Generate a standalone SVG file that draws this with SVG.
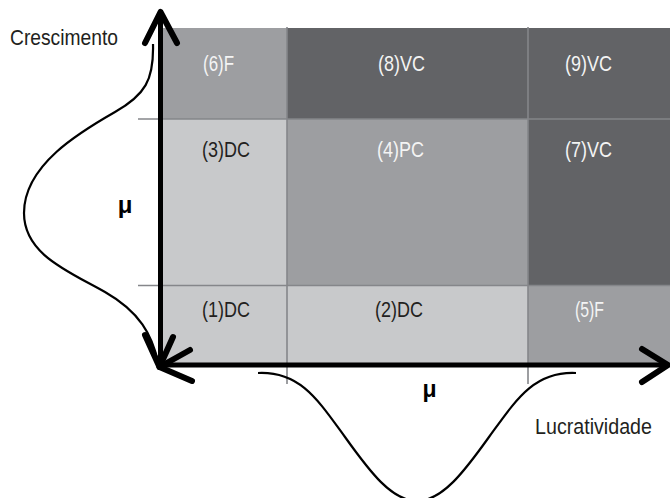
<svg xmlns="http://www.w3.org/2000/svg" width="670" height="498" viewBox="0 0 670 498">
<style>
.light{fill:#c8c9cb}
.mid{fill:#9d9ea1}
.dark{fill:#626366}
.grid{stroke:#85868a;stroke-width:1.6;fill:none}
.lbl{font-family:"Liberation Sans",Arial,sans-serif;font-size:22px;text-anchor:middle}
.w{fill:#f4f4f4}
.k{fill:#231f20}
.axis{stroke:#000;stroke-width:5;fill:none}
.head{stroke:#000;stroke-width:6;fill:none;stroke-linecap:round;stroke-linejoin:round}
.curve{stroke:#000;stroke-width:2.2;fill:none}
.mu{font-family:"Liberation Sans",Arial,sans-serif;font-weight:bold;fill:#000;text-anchor:middle}
.title{font-family:"Liberation Sans",Arial,sans-serif;font-size:22.5px;fill:#231f20}
</style>
<g id="cells">
<g id="cell6"><rect class="mid" x="160" y="28" width="127" height="91"/><text class="lbl w" x="218.5" y="70.5" textLength="31" lengthAdjust="spacingAndGlyphs">(6)F</text></g>
<g id="cell8"><rect class="dark" x="287" y="28" width="241" height="91"/><text class="lbl w" x="401.5" y="70.5" textLength="47" lengthAdjust="spacingAndGlyphs">(8)VC</text></g>
<g id="cell9"><rect class="dark" x="528" y="28" width="142" height="91"/><text class="lbl w" x="588.5" y="70.5" textLength="47" lengthAdjust="spacingAndGlyphs">(9)VC</text></g>
<g id="cell3"><rect class="light" x="160" y="119" width="127" height="166"/><text class="lbl k" x="226" y="157" textLength="48" lengthAdjust="spacingAndGlyphs">(3)DC</text></g>
<g id="cell4"><rect class="mid" x="287" y="119" width="241" height="166"/><text class="lbl w" x="400.5" y="157" textLength="47" lengthAdjust="spacingAndGlyphs">(4)PC</text></g>
<g id="cell7"><rect class="dark" x="528" y="119" width="142" height="166"/><text class="lbl w" x="588.5" y="157" textLength="47" lengthAdjust="spacingAndGlyphs">(7)VC</text></g>
<g id="cell1"><rect class="light" x="160" y="285" width="127" height="80"/><text class="lbl k" x="226" y="317" textLength="48" lengthAdjust="spacingAndGlyphs">(1)DC</text></g>
<g id="cell2"><rect class="light" x="287" y="285" width="241" height="80"/><text class="lbl k" x="399" y="317" textLength="48" lengthAdjust="spacingAndGlyphs">(2)DC</text></g>
<g id="cell5"><rect class="mid" x="528" y="285" width="142" height="80"/><text class="lbl w" x="589.5" y="317" textLength="29" lengthAdjust="spacingAndGlyphs">(5)F</text></g>
</g>
<g id="gridlines">
<line class="grid" x1="138" y1="119" x2="670" y2="119"/>
<line class="grid" x1="138" y1="285.5" x2="670" y2="285.5"/>
<line class="grid" x1="287" y1="27" x2="287" y2="384"/>
<line class="grid" x1="528" y1="27" x2="528" y2="384"/>
</g>
<g id="connectors">
<line class="axis" x1="160.5" y1="13" x2="160.5" y2="367"/>
<line class="axis" x1="159" y1="365" x2="667" y2="365"/>
<polyline class="head" points="145,43 160.5,12 177,43"/>
<polyline class="head" points="145,335 159.5,367 173,337"/>
<polyline class="head" points="190,350 159.5,367 192,381"/>
<polyline class="head" points="642,349 668,365 642,382"/>
<path class="curve" d="M153,44 C154,80 145,95 115,112 C80,132 24,165 24,213 C24,255 70,272 105,292 C140,312 152,335 158,362"/>
<path class="curve" d="M258,373 C300,371 318,400 345,437 C370,472 392,501 417,501 C442,501 464,472 489,437 C516,400 534,371 576,373"/>
</g>
<g id="labels">
<text class="title" x="10" y="45" textLength="108" lengthAdjust="spacingAndGlyphs">Crescimento</text>
<text class="title" x="535" y="434" textLength="117" lengthAdjust="spacingAndGlyphs">Lucratividade</text>
<text class="mu" x="125" y="212.5" font-size="24">μ</text>
<text class="mu" x="429.5" y="397" font-size="23">μ</text>
</g>
</svg>
